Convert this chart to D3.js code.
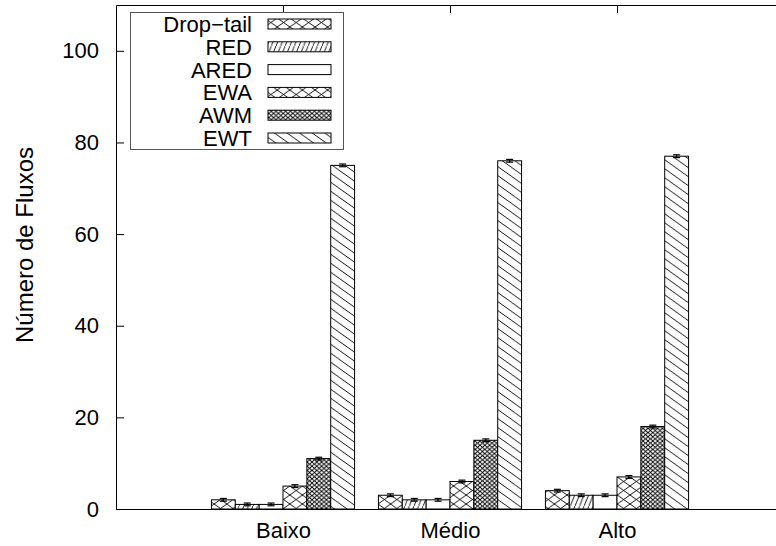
<!DOCTYPE html>
<html>
<head>
<meta charset="utf-8">
<script src="https://cdn.jsdelivr.net/npm/d3@7"></script>
<style>
  body { margin: 0; background: #fff; }
  svg { display: block; }
  text { font-family: "Liberation Sans", Arial, Helvetica, sans-serif; fill: #000; }
</style>
</head>
<body>
<svg id="chart" width="776" height="546"></svg>
<script>
// Load levels (x categories) and the six queue-management schemes
const categories = ["Baixo", "Médio", "Alto"];
const seriesNames = ["Drop−tail", "RED", "ARED", "EWA", "AWM", "EWT"];

// Number of flows per scheme, one value per load level
const dropTail = [2, 3, 4];
const red      = [1, 2, 3];
const ared     = [1, 2, 3];
const ewa      = [5, 6, 7];
const awm      = [11, 15, 18];
const ewt      = [75, 76, 77];

// Half-width of the confidence interval for each scheme
const errorHalf = [0.3, 0.3, 0.3, 0.3, 0.3, 0.3];

const yTicks = [0, 20, 40, 60, 80, 100];

const seriesValues = [dropTail, red, ared, ewa, awm, ewt];
const seriesFill = ["cross", "steep", "none", "cross", "dense", "back"];

const svg = d3.select("#chart");
const x = d3.scaleLinear().domain([-1, 3]).range([116, 784]);
const y = d3.scaleLinear().domain([0, 110]).range([509, 5]);
const nSeries = seriesNames.length;
const slot = 1 / (nSeries + 1);
const barW = x(slot) - x(0);

// ---- hatch patterns ----
const defs = svg.append("defs");
function hatch(id, P, Q, dirs) {
  const p = defs.append("pattern")
    .attr("id", id).attr("patternUnits", "userSpaceOnUse")
    .attr("width", P).attr("height", Q);
  p.append("rect").attr("width", P).attr("height", Q).attr("fill", "#fff");
  dirs.forEach(dir => {
    [-Q, 0, Q].forEach(off => {
      const l = p.append("line")
        .attr("stroke", "#000").attr("stroke-width", 0.9);
      if (dir === "\\") {
        l.attr("x1", 0).attr("y1", off).attr("x2", P).attr("y2", Q + off);
      } else {
        l.attr("x1", 0).attr("y1", Q + off).attr("x2", P).attr("y2", off);
      }
    });
  });
}
hatch("cross", 12.6, 9, ["\\", "/"]);
hatch("dense", 4.8, 4.2, ["\\", "/"]);
hatch("steep", 4.6, 11.5, ["/"]);
hatch("back", 12.6, 9, ["\\"]);
const fillOf = k => seriesFill[k] === "none" ? "#fff" : `url(#${seriesFill[k]})`;

// ---- bars ----
const bars = svg.append("g");
seriesValues.forEach((vals, k) => {
  bars.selectAll(null).data(vals).enter().append("rect")
    .attr("x", (v, g) => x(g - 3 * slot + k * slot))
    .attr("width", barW)
    .attr("y", v => y(v))
    .attr("height", v => y(0) - y(v))
    .attr("fill", fillOf(k))
    .attr("stroke", "#000")
    .attr("stroke-width", 1);
});

// ---- error bars ----
const errs = svg.append("g").attr("stroke", "#000").attr("stroke-width", 1.2);
seriesValues.forEach((vals, k) => {
  vals.forEach((v, g) => {
    const cx = x(g - 3 * slot + (k + 0.5) * slot);
    const e = errorHalf[k];
    errs.append("line").attr("x1", cx).attr("x2", cx).attr("y1", y(v - e)).attr("y2", y(v + e));
    [v - e, v + e].forEach(t => {
      errs.append("line").attr("x1", cx - 3.5).attr("x2", cx + 3.5).attr("y1", y(t)).attr("y2", y(t));
    });
  });
});

// ---- axes and border ----
const fontSize = 22;
const axisLeftG = svg.append("g").attr("transform", `translate(${x(-1)},0)`)
  .call(d3.axisLeft(y).tickValues(yTicks).tickSizeInner(-8).tickSizeOuter(0).tickPadding(17));
const axisRightG = svg.append("g").attr("transform", `translate(${x(3)},0)`)
  .call(d3.axisRight(y).tickValues(yTicks).tickSizeInner(-8).tickSizeOuter(0).tickFormat(""));
const axisTopG = svg.append("g").attr("transform", `translate(0,${y(110)})`)
  .call(d3.axisTop(x).tickValues([0, 1, 2]).tickSizeInner(-8).tickSizeOuter(0).tickFormat(""));
const axisBottomG = svg.append("g").attr("transform", `translate(0,${y(0)})`)
  .call(d3.axisBottom(x).tickValues([0, 1, 2]).tickSizeInner(0).tickSizeOuter(0)
    .tickPadding(13).tickFormat(i => categories[i]));
[axisLeftG, axisRightG, axisTopG, axisBottomG].forEach(a => {
  a.selectAll("path,line").attr("stroke", "#000").attr("stroke-width", 1);
  a.selectAll("text").attr("font-size", fontSize).attr("font-family", null).attr("fill", "#000");
});

svg.append("text")
  .attr("transform", `translate(33,245) rotate(-90)`)
  .attr("text-anchor", "middle")
  .attr("font-size", 24)
  .text("Número de Fluxos");

// ---- legend ----
const legend = svg.append("g");
legend.append("rect")
  .attr("x", 130.5).attr("y", 12.5).attr("width", 213).attr("height", 137)
  .attr("fill", "#fff").attr("stroke", "#555").attr("stroke-width", 1);
const rowY = d3.scaleLinear().domain([0, 1]).range([24, 46.8]);
seriesNames.forEach((name, k) => {
  const cy = rowY(k);
  legend.append("text")
    .attr("x", 252).attr("y", cy + 8)
    .attr("text-anchor", "end")
    .attr("font-size", fontSize)
    .text(name);
  legend.append("rect")
    .attr("x", 268).attr("y", cy - 5).attr("width", 63).attr("height", 10)
    .attr("fill", fillOf(k)).attr("stroke", "#000").attr("stroke-width", 1);
});
</script>
</body>
</html>
